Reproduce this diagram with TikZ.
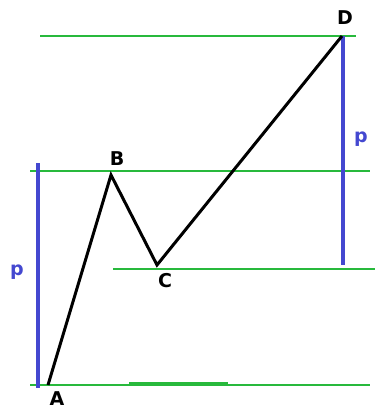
\documentclass[tikz,border=0pt]{standalone}
\usepackage{fontspec}
\setmainfont{DejaVu Sans}
\usetikzlibrary{positioning}
\definecolor{levelgreen}{RGB}{40,185,60}
\definecolor{rangeblue}{RGB}{68,72,208}

\begin{document}
\begin{tikzpicture}[
        x=1pt, y=-1pt,
        levelline/.style={draw=levelgreen, line width=1.2pt},
        rangebar/.style={draw=rangeblue, line width=3.5pt},
        swing/.style={draw=black, line width=3pt, line join=miter},
        ptlabel/.style={font=\fontsize{19}{22}\selectfont\bfseries, inner sep=0pt},
        plabel/.style={font=\fontsize{19}{22}\selectfont\bfseries, text=rangeblue, inner sep=0pt}
    ]
        \useasboundingbox (0,0) rectangle (375,407);
        % swing points
        \coordinate (A) at (48,385);
        \coordinate (B) at (111,175);
        \coordinate (C) at (157,265);
        \coordinate (D) at (342,36);

        % horizontal levels
        \draw[levelline] (40,36) -- (356,36);
        \draw[levelline] (30,171) -- (370,171);
        \draw[levelline] (113,269) -- (375,269);
        \draw[levelline] (30,385) -- (370,385);
        \draw[levelline, line width=2pt] (129,383) -- (228,383);

        % ranges
        \draw[rangebar] (38,163) -- (38,388);
        \draw[rangebar] (343,36) -- (343,265);

        \draw[swing] (A) -- (B) -- (C) -- (D);

        \node[ptlabel] (labA) at (57,399) {A};
        \node[ptlabel] (labB) at (117,159) {B};
        \node[ptlabel] (labC) at (165,281) {C};
        \node[ptlabel] (labD) at (345,18) {D};
        \node[plabel] (p1) at (17,272) {p};
        \node[plabel] (p2) at (361,139) {p};
    \end{tikzpicture}
\end{document}
